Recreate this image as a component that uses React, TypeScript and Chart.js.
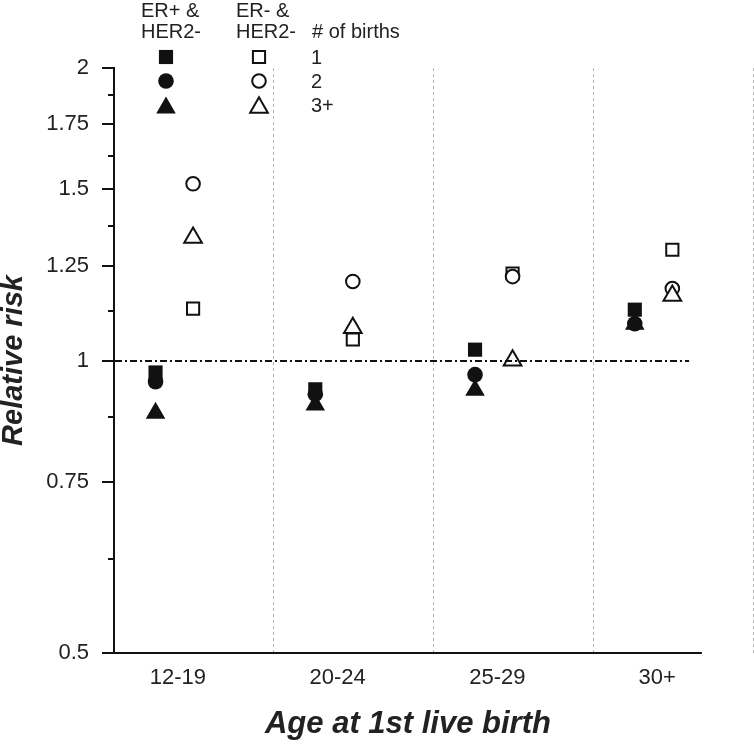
import React, { useEffect, useRef } from 'react';
import { Chart, registerables } from 'chart.js';

Chart.register(...registerables);

// ---- data ----
const CATEGORIES = ['12-19', '20-24', '25-29', '30+'];
// ER+ & HER2- (filled markers)
const ERPOS_BIRTH1 = [0.972, 0.934, 1.026, 1.128];
const ERPOS_BIRTH2 = [0.951, 0.923, 0.967, 1.091];
const ERPOS_BIRTH3 = [0.883, 0.900, 0.932, 1.090];
// ER- & HER2- (open markers)
const ERNEG_BIRTH1 = [1.131, 1.051, 1.229, 1.300];
const ERNEG_BIRTH2 = [1.520, 1.206, 1.220, 1.186];
const ERNEG_BIRTH3 = [1.338, 1.080, 1.000, 1.166];

const Y_TICKS = [0.5, 0.75, 1, 1.25, 1.5, 1.75, 2];
const Y_TICK_LABELS = ['0.5', '0.75', '1', '1.25', '1.5', '1.75', '2'];
const Y_MINOR_TICKS = [0.625, 0.875, 1.125, 1.375, 1.625, 1.875];
const BIRTH_LABELS = ['1', '2', '3+'];
const GROUP_LABELS = [['ER+ &', 'HER2-'], ['ER- &', 'HER2-']];
const LEGEND_TITLE = '# of births';
const X_TITLE = 'Age at 1st live birth';
const Y_TITLE = 'Relative risk';
const REF_VALUE = 1;

// ---- layout constants ----
const FONT = "'Liberation Sans', Arial, Helvetica, sans-serif";
const INK = '#111';
const TEXT = '#222';
const FILLED_OFFSET = -0.14;
const OPEN_OFFSET = 0.095;
const X_MIN = -0.4;
const X_MAX = 3.6;
const AXIS_END = 3.28;
const REF_END = 3.2;

const SHAPES = ['rect', 'circle', 'triangle'];
const FILLED_RADIUS = [10, 7.8, 11.3];
const OPEN_RADIUS = [8.6, 6.8, 10.2];

const toPoints = (vals: number[], off: number) => vals.map((v, i) => ({ x: i + off, y: v }));

function drawMarker(ctx: CanvasRenderingContext2D, style: string, r: number, x: number, y: number, filled: boolean) {
  ctx.save();
  ctx.beginPath();
  if (style === 'rect') {
    const s = Math.SQRT1_2 * r;
    ctx.rect(x - s, y - s, 2 * s, 2 * s);
  } else if (style === 'circle') {
    ctx.arc(x, y, r, 0, Math.PI * 2);
  } else {
    let rad = 0;
    ctx.moveTo(x + Math.sin(rad) * r, y - Math.cos(rad) * r);
    rad += (2 * Math.PI) / 3;
    ctx.lineTo(x + Math.sin(rad) * r, y - Math.cos(rad) * r);
    rad += (2 * Math.PI) / 3;
    ctx.lineTo(x + Math.sin(rad) * r, y - Math.cos(rad) * r);
    ctx.closePath();
  }
  if (filled) {
    ctx.fillStyle = INK;
    ctx.fill();
  } else {
    ctx.fillStyle = '#fff';
    ctx.fill();
    ctx.strokeStyle = INK;
    ctx.lineWidth = 2;
    ctx.stroke();
  }
  ctx.restore();
}

const overlayPlugin = {
  id: 'overlay',
  afterDatasetsDraw(chart: any) {
    const { ctx, chartArea } = chart;
    const xs = chart.scales.x;
    const ys = chart.scales.y;
    ctx.save();
    // reference line
    const yr = Math.round(ys.getPixelForValue(REF_VALUE));
    ctx.strokeStyle = INK;
    ctx.lineWidth = 2;
    ctx.setLineDash([7, 3, 2, 3]);
    ctx.beginPath();
    ctx.moveTo(chartArea.left + 1, yr);
    ctx.lineTo(xs.getPixelForValue(REF_END), yr);
    ctx.stroke();
    ctx.setLineDash([]);
    // x axis line
    const yb = Math.round(chartArea.bottom);
    ctx.beginPath();
    ctx.moveTo(chartArea.left - 12, yb);
    ctx.lineTo(xs.getPixelForValue(AXIS_END), yb);
    ctx.stroke();
    // minor y ticks
    ctx.beginPath();
    for (const v of Y_MINOR_TICKS) {
      const py = Math.round(ys.getPixelForValue(v));
      ctx.moveTo(chartArea.left - 6, py);
      ctx.lineTo(chartArea.left, py);
    }
    ctx.stroke();

    // axis titles
    ctx.fillStyle = TEXT;
    ctx.font = `italic bold 31px ${FONT}`;
    ctx.textAlign = 'center';
    ctx.textBaseline = 'alphabetic';
    ctx.fillText(X_TITLE, (chartArea.left + xs.getPixelForValue(AXIS_END)) / 2, 733);
    ctx.save();
    ctx.translate(22, (chartArea.top + chartArea.bottom) / 2);
    ctx.rotate(-Math.PI / 2);
    ctx.font = `italic bold 29px ${FONT}`;
    ctx.fillText(Y_TITLE, 0, 0);
    ctx.restore();

    // legend
    ctx.font = `20px ${FONT}`;
    ctx.textAlign = 'left';
    const groupX = [141, 236];
    const markerX = [166, 259];
    const rowY = [57, 81, 105];
    GROUP_LABELS.forEach((lines, g) => {
      ctx.fillText(lines[0], groupX[g], 17);
      ctx.fillText(lines[1], groupX[g], 38);
      SHAPES.forEach((s, k) => {
        const r = g === 0 ? FILLED_RADIUS[k] : OPEN_RADIUS[k];
        const dy = s === 'triangle' ? r / 4 : 0;
        drawMarker(ctx, s, r, markerX[g], rowY[k] + dy, g === 0);
      });
    });
    ctx.fillText(LEGEND_TITLE, 312, 38);
    BIRTH_LABELS.forEach((t, k) => {
      ctx.fillText(t, 311, rowY[k] + 7);
    });
    ctx.restore();
  },
};

export default function App() {
  const ref = useRef<HTMLCanvasElement | null>(null);

  useEffect(() => {
    if (!ref.current) return;
    Chart.defaults.font.family = FONT;
    const mk = (vals: number[], off: number, k: number, filled: boolean) => ({
      label: `${filled ? 'ER+' : 'ER-'} ${BIRTH_LABELS[k]}`,
      data: toPoints(vals, off),
      showLine: false,
      order: 3 - k,
      pointStyle: SHAPES[k],
      pointRadius: filled ? FILLED_RADIUS[k] : OPEN_RADIUS[k],
      pointBackgroundColor: filled ? INK : '#ffffff',
      pointBorderColor: INK,
      pointBorderWidth: filled ? 0 : 2,
      pointHoverRadius: filled ? FILLED_RADIUS[k] : OPEN_RADIUS[k],
    });
    const chart = new Chart(ref.current, {
      type: 'scatter',
      data: {
        datasets: [
          mk(ERPOS_BIRTH1, FILLED_OFFSET, 0, true),
          mk(ERPOS_BIRTH2, FILLED_OFFSET, 1, true),
          mk(ERPOS_BIRTH3, FILLED_OFFSET, 2, true),
          mk(ERNEG_BIRTH1, OPEN_OFFSET, 0, false),
          mk(ERNEG_BIRTH2, OPEN_OFFSET, 1, false),
          mk(ERNEG_BIRTH3, OPEN_OFFSET, 2, false),
        ] as any,
      },
      options: {
        animation: false,
        responsive: false,
        devicePixelRatio: 1,
        events: [],
        layout: { padding: { top: 68, right: 1, left: 0, bottom: 0 }, autoPadding: false },
        plugins: { legend: { display: false }, tooltip: { enabled: false } },
        scales: {
          x: {
            type: 'linear',
            min: X_MIN,
            max: X_MAX,
            afterBuildTicks: (s: any) => {
              const vals: number[] = [];
              CATEGORIES.forEach((_, i) => {
                vals.push(i, i + 0.6);
              });
              s.ticks = vals.map((v) => ({ value: v }));
            },
            afterFit: (s: any) => {
              s.height = 92;
              s.paddingLeft = 0;
              s.paddingRight = 0;
            },
            ticks: {
              autoSkip: false,
              maxRotation: 0,
              padding: 12,
              color: TEXT,
              font: { size: 22, family: FONT },
              callback: (v: any) => (Number.isInteger(v) ? CATEGORIES[v] : ''),
            },
            grid: {
              drawTicks: false,
              lineWidth: 1,
              color: (c: any) => (c.tick && Number.isInteger(c.tick.value) ? 'rgba(0,0,0,0)' : '#b5b5b5'),
            },
            border: { display: false, dash: [3, 3] },
          },
          y: {
            type: 'logarithmic',
            min: 0.5,
            max: 2,
            afterBuildTicks: (s: any) => {
              s.ticks = Y_TICKS.map((v) => ({ value: v }));
            },
            afterFit: (s: any) => {
              s.width = 114;
              s.paddingTop = 0;
              s.paddingBottom = 0;
            },
            ticks: {
              padding: 13,
              color: TEXT,
              font: { size: 22, family: FONT },
              callback: (v: any) => {
                const i = Y_TICKS.indexOf(Number(v));
                return i >= 0 ? Y_TICK_LABELS[i] : '';
              },
            },
            grid: {
              drawOnChartArea: false,
              drawTicks: true,
              tickLength: 12,
              color: INK,
              lineWidth: 2,
            },
            border: { display: true, color: INK, width: 2 },
          },
        },
      },
      plugins: [overlayPlugin],
    } as any);
    return () => chart.destroy();
  }, []);

  return (
    <div style={{ position: 'absolute', left: 0, top: 0, width: 754, height: 745, background: '#fff' }}>
      <canvas ref={ref} width={754} height={745} style={{ display: 'block', width: 754, height: 745 }} />
    </div>
  );
}
